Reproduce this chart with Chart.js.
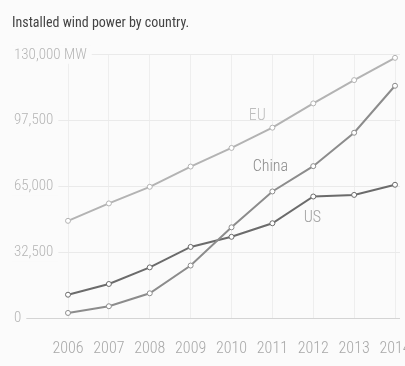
<!DOCTYPE html>
<html>
<head>
<meta charset="utf-8">
<script src="https://cdn.jsdelivr.net/npm/chart.js@4/dist/chart.umd.min.js"></script>
<style>
  html, body { margin: 0; padding: 0; background: #fbfbfb; overflow: hidden; }
  canvas { display: block; }
</style>
</head>
<body>
<canvas id="chart" width="405" height="366"></canvas>
<script>
const years = [2006, 2007, 2008, 2009, 2010, 2011, 2012, 2013, 2014];
const euMW = [48000, 56600, 64800, 74800, 84000, 94000, 106000, 117500, 128500];
const chinaMW = [2500, 5800, 12200, 25900, 44800, 62500, 75000, 91500, 114700];
const usMW = [11500, 16800, 25000, 35100, 40100, 46800, 60000, 60800, 65800];
const yTicks = [0, 32500, 65000, 97500, 130000];

const seriesNames = ["EU", "China", "US"];
const seriesColors = ["#b3b3b3", "#8c8c8c", "#6b6b6b"];
const nameColors = ["#bdbdbd", "#8a8a8a", "#a0a0a0"];
// where each series name sits, in data units
const nameSpots = [[2010.63, 99800], [2010.95, 74400], [2011.98, 49600]];

const cond = "'Roboto Condensed', sans-serif";

function pts(vals) {
  return vals.map((v, i) => ({ x: years[i], y: v }));
}

const seriesLabels = {
  id: "seriesLabels",
  afterDatasetsDraw(chart) {
    const ctx = chart.ctx;
    const xs = chart.scales.x;
    const ys = chart.scales.y;
    ctx.save();
    ctx.font = "300 16px " + cond;
    ctx.textAlign = "center";
    ctx.textBaseline = "middle";
    seriesNames.forEach((name, i) => {
      ctx.fillStyle = nameColors[i];
      ctx.fillText(name, xs.getPixelForValue(nameSpots[i][0]), ys.getPixelForValue(nameSpots[i][1]));
    });
    ctx.restore();
  }
};

const sets = [euMW, chinaMW, usMW].map((vals, i) => ({
  label: seriesNames[i],
  data: pts(vals),
  borderColor: seriesColors[i],
  borderWidth: 2,
  pointRadius: 2.5,
  pointBorderWidth: 1,
  pointBackgroundColor: "#ffffff",
  pointBorderColor: seriesColors[i],
  tension: 0
}));

new Chart(document.getElementById("chart"), {
  type: "line",
  data: { datasets: sets },
  options: {
    responsive: false,
    animation: false,
    layout: { padding: { left: 12, right: 5, top: 0, bottom: 7 } },
    plugins: {
      legend: { display: false },
      tooltip: { enabled: false },
      title: {
        display: true,
        text: "Installed wind power by country.",
        align: "start",
        color: "#444444",
        font: { family: cond, size: 14, weight: "normal" },
        padding: { top: 15, bottom: 23 }
      }
    },
    scales: {
      x: {
        type: "linear",
        min: 2004.63,
        max: 2014.122,
        afterBuildTicks: (s) => { s.ticks = years.map(v => ({ value: v })); },
        afterFit: (s) => { s.paddingLeft = 0; s.paddingRight = 0; s.height = 41; },
        grid: { color: "#eeeeee", drawTicks: false },
        border: { display: false },
        ticks: {
          color: "#a8a8a8",
          padding: 21,
          font: { family: cond, size: 16, weight: 300 },
          callback: (v) => String(v),
          maxRotation: 0,
          autoSkip: false
        }
      },
      y: {
        min: 0,
        max: 130000,
        afterBuildTicks: (s) => { s.ticks = yTicks.map(v => ({ value: v })); },
        afterFit: (s) => { s.width = 0; },
        grid: {
          drawTicks: false,
          color: (c) => (c.tick && c.tick.value === 0 ? "#d4d4d4" : "#eaeaea")
        },
        border: { display: false },
        ticks: {
          mirror: true,
          padding: 2,
          color: "#b5b5b5",
          font: { family: cond, size: 15, weight: 300 },
          showLabelBackdrop: true,
          backdropColor: "#fbfbfb",
          backdropPadding: { left: 2, right: 5, top: 0, bottom: 0 },
          callback: (v) => (v === 130000 ? "130,000 MW" : v.toLocaleString("en-US"))
        }
      }
    }
  },
  plugins: [seriesLabels]
});
</script>
</body>
</html>
